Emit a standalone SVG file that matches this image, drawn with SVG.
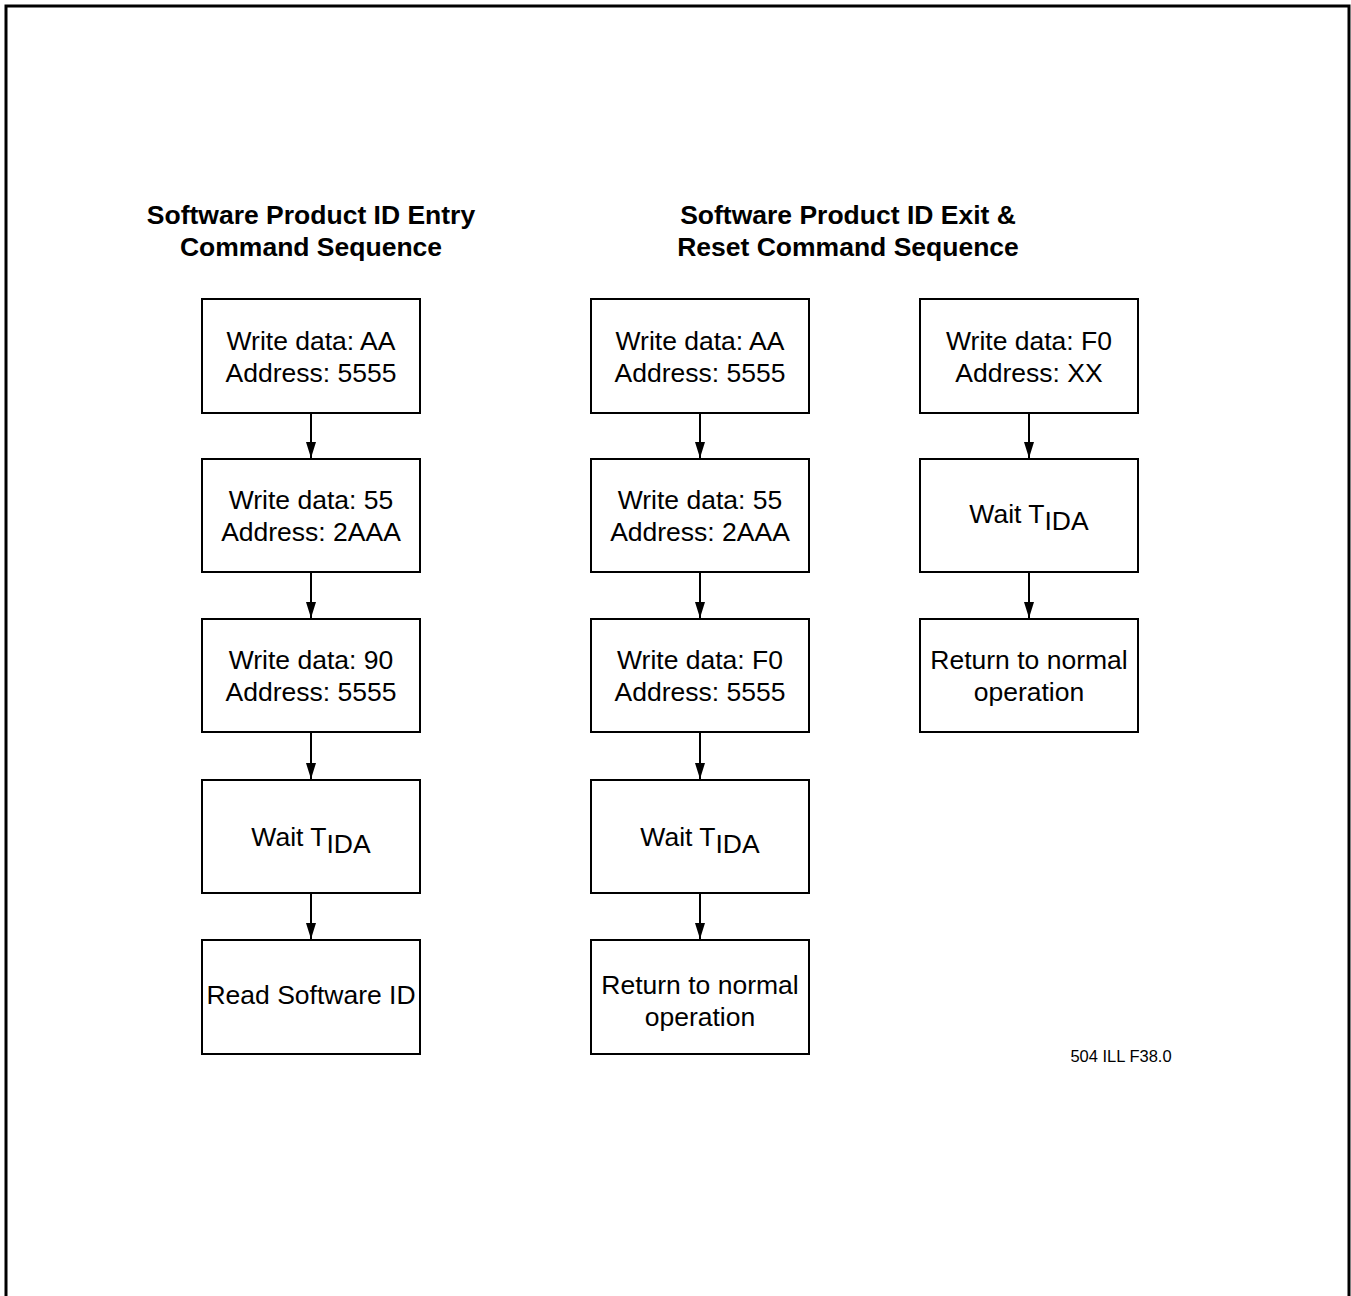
<svg xmlns="http://www.w3.org/2000/svg" width="1351" height="1296" viewBox="0 0 1351 1296">
<style>
.box{fill:#fff;stroke:#000;stroke-width:2}
.t{font-family:"Liberation Sans",Arial,sans-serif;font-size:26.5px;fill:#000;text-anchor:middle}
.h{font-family:"Liberation Sans",Arial,sans-serif;font-size:26.5px;font-weight:bold;fill:#000;text-anchor:middle}
.c{stroke:#000;stroke-width:2;fill:none}
</style>
<defs>
<marker id="ah" markerWidth="16" markerHeight="10" refX="16" refY="5" orient="auto" markerUnits="userSpaceOnUse" viewBox="0 0 16 10">
<path d="M0,0 L16,5 L0,10 Z" fill="#000"/>
</marker>
</defs>
<rect width="1351" height="1296" fill="#fff"/>
<path d="M6,1300 V6 H1349 V1300" fill="none" stroke="#000" stroke-width="3"/>
<text class="h" x="311" y="224">Software Product ID Entry</text>
<text class="h" x="311" y="256">Command Sequence</text>
<text class="h" x="848" y="224">Software Product ID Exit &amp;</text>
<text class="h" x="848" y="256">Reset Command Sequence</text>
<g id="connectors">
<line class="c" x1="311" y1="413" x2="311" y2="458" marker-end="url(#ah)"/>
<line class="c" x1="311" y1="572" x2="311" y2="618" marker-end="url(#ah)"/>
<line class="c" x1="311" y1="732" x2="311" y2="779" marker-end="url(#ah)"/>
<line class="c" x1="311" y1="893" x2="311" y2="939" marker-end="url(#ah)"/>
<line class="c" x1="700" y1="413" x2="700" y2="458" marker-end="url(#ah)"/>
<line class="c" x1="700" y1="572" x2="700" y2="618" marker-end="url(#ah)"/>
<line class="c" x1="700" y1="732" x2="700" y2="779" marker-end="url(#ah)"/>
<line class="c" x1="700" y1="893" x2="700" y2="939" marker-end="url(#ah)"/>
<line class="c" x1="1029" y1="413" x2="1029" y2="458" marker-end="url(#ah)"/>
<line class="c" x1="1029" y1="572" x2="1029" y2="618" marker-end="url(#ah)"/>
</g>
<g id="L1"><rect class="box" x="202" y="299" width="218" height="114"/><text class="t" x="311" y="350">Write data: AA</text><text class="t" x="311" y="382">Address: 5555</text></g>
<g id="L2"><rect class="box" x="202" y="459" width="218" height="113"/><text class="t" x="311" y="509">Write data: 55</text><text class="t" x="311" y="541">Address: 2AAA</text></g>
<g id="L3"><rect class="box" x="202" y="619" width="218" height="113"/><text class="t" x="311" y="669">Write data: 90</text><text class="t" x="311" y="701">Address: 5555</text></g>
<g id="L4"><rect class="box" x="202" y="780" width="218" height="113"/><text class="t" x="311" y="846">Wait T<tspan dy="7">IDA</tspan></text></g>
<g id="L5"><rect class="box" x="202" y="940" width="218" height="114"/><text class="t" x="311" y="1004">Read Software ID</text></g>
<g id="M1"><rect class="box" x="591" y="299" width="218" height="114"/><text class="t" x="700" y="350">Write data: AA</text><text class="t" x="700" y="382">Address: 5555</text></g>
<g id="M2"><rect class="box" x="591" y="459" width="218" height="113"/><text class="t" x="700" y="509">Write data: 55</text><text class="t" x="700" y="541">Address: 2AAA</text></g>
<g id="M3"><rect class="box" x="591" y="619" width="218" height="113"/><text class="t" x="700" y="669">Write data: F0</text><text class="t" x="700" y="701">Address: 5555</text></g>
<g id="M4"><rect class="box" x="591" y="780" width="218" height="113"/><text class="t" x="700" y="846">Wait T<tspan dy="7">IDA</tspan></text></g>
<g id="M5"><rect class="box" x="591" y="940" width="218" height="114"/><text class="t" x="700" y="994">Return to normal</text><text class="t" x="700" y="1026">operation</text></g>
<g id="R1"><rect class="box" x="920" y="299" width="218" height="114"/><text class="t" x="1029" y="350">Write data: F0</text><text class="t" x="1029" y="382">Address: XX</text></g>
<g id="R2"><rect class="box" x="920" y="459" width="218" height="113"/><text class="t" x="1029" y="523">Wait T<tspan dy="7">IDA</tspan></text></g>
<g id="R3"><rect class="box" x="920" y="619" width="218" height="113"/><text class="t" x="1029" y="669">Return to normal</text><text class="t" x="1029" y="701">operation</text></g>
<text x="1121" y="1062" font-family="Liberation Sans,Arial,sans-serif" font-size="16.5" text-anchor="middle">504 ILL F38.0</text>
</svg>
